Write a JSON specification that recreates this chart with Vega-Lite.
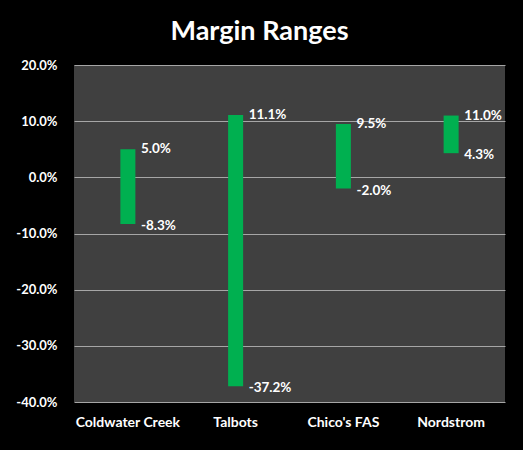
{
  "$schema": "https://vega.github.io/schema/vega-lite/v6.json",
  "width": 431,
  "height": 337,
  "autosize": {"type": "none"},
  "padding": {"left": 74, "top": 65, "right": 18, "bottom": 48},
  "background": "#000000",
  "title": {"text": "Margin Ranges", "color": "#ffffff", "font": "Lato", "fontWeight": "bold", "fontSize": 27, "anchor": "middle", "dx": -30, "offset": 13},
  "config": {
    "view": {"fill": "#404040", "stroke": null},
    "font": "Lato",
    "locale": {"number": {"decimal": ".", "thousands": ",", "grouping": [3], "currency": ["$", ""], "minus": "-"}}
  },
  "data": {
    "values": [
      {"company": "Coldwater Creek", "high": 0.050, "low": -0.083},
      {"company": "Talbots", "high": 0.111, "low": -0.372},
      {"company": "Chico's FAS", "high": 0.095, "low": -0.020},
      {"company": "Nordstrom", "high": 0.110, "low": 0.043}
    ]
  },
  "encoding": {
    "x": {
      "field": "company", "type": "nominal", "sort": null, "title": null,
      "axis": {"labelAngle": 0, "labelColor": "#ffffff", "labelFont": "Lato", "labelFontWeight": "bold", "labelFontSize": 14, "labelPadding": 13, "ticks": false, "domain": false, "grid": false}
    }
  },
  "layer": [
    {
      "mark": {"type": "bar", "color": "#00B050", "width": 15},
      "encoding": {
        "y": {
          "field": "low", "type": "quantitative", "title": null,
          "scale": {"domain": [-0.4, 0.2], "nice": false},
          "axis": {"format": ".1%", "values": [-0.4, -0.3, -0.2, -0.1, 0, 0.1, 0.2], "labelColor": "#ffffff", "labelFont": "Lato", "labelFontWeight": "bold", "labelFontSize": 13, "labelPadding": 17, "ticks": false, "domain": false, "grid": true, "gridColor": "#a6a6a6", "gridWidth": 1, "gridOpacity": 1}
        },
        "y2": {"field": "high"}
      }
    },
    {
      "mark": {"type": "text", "align": "left", "baseline": "middle", "dx": 13, "color": "#ffffff", "font": "Lato", "fontWeight": "bold", "fontSize": 13.5},
      "encoding": {
        "y": {"field": "high", "type": "quantitative"},
        "text": {"field": "high", "type": "quantitative", "format": ".1%"}
      }
    },
    {
      "mark": {"type": "text", "align": "left", "baseline": "middle", "dx": 13, "dy": 2, "color": "#ffffff", "font": "Lato", "fontWeight": "bold", "fontSize": 13.5},
      "encoding": {
        "y": {"field": "low", "type": "quantitative"},
        "text": {"field": "low", "type": "quantitative", "format": ".1%"}
      }
    }
  ]
}
